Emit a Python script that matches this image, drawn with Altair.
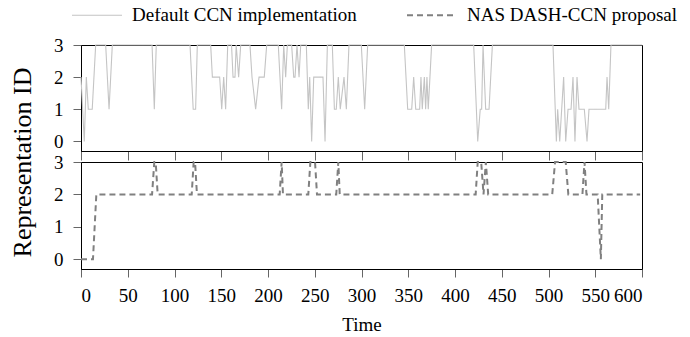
import altair as alt
import pandas as pd

# Default CCN implementation (top panel): time, representation id
default_t = [0, 3.5, 5.7, 7.8, 12, 15.7, 26.4, 30, 33.5, 76, 78.4, 80.5, 116.6, 120, 122.6, 124.4,
             138.7, 140.5, 148.3, 150.5, 152.6, 154.7, 156.9, 161, 162.6, 164.7, 166, 168.6, 170.8,
             180.7, 182.9, 186.8, 190.4, 196, 198.6, 211, 214.6, 216.8, 218.9, 220.7, 225.3, 227.5,
             228.9, 231, 233.2, 235, 241, 243.1, 244.6, 246.7, 248.9, 258.8, 261, 263.5, 268.8, 271,
             273, 275.2, 277.3, 281.3, 283.8, 286.6, 299.8, 303.4, 306.6, 345.8, 349.4, 353.7, 355.8,
             358, 362.2, 363.6, 365, 367.2, 368.6, 370, 371.4, 375, 420, 424.3, 427, 428.5, 430, 432.8,
             436.4, 440, 504.8, 508.4, 509.8, 512, 516.2, 518.4, 520.9, 524.1, 526.2, 528.3, 530.5,
             532.6, 538.3, 541.2, 543.3, 561.2, 562.6, 564.4, 566.8, 600]
default_v = [2, 0, 2, 1, 1, 3, 3, 1, 3, 3, 1, 3, 3, 1, 1, 3,
             3, 2, 2, 1, 2, 1, 3, 3, 2, 2, 3, 2, 3,
             3, 2, 1, 2, 2, 3, 3, 1, 3, 2, 3, 3, 2,
             2, 3, 2, 3, 3, 1, 2, 0, 2, 2, 0, 3, 3, 1,
             1, 2, 1, 2, 1, 3, 3, 1, 3, 3, 1, 1, 2,
             1, 1, 2, 1, 2, 1, 2, 1, 3, 3, 0, 1, 1, 3, 1,
             1, 3, 3, 0, 1, 0, 2, 0, 1, 1, 2, 0, 2,
             1, 1, 0, 1, 1, 2, 1, 3, 3]

# NAS DASH-CCN proposal (bottom panel)
nas_t = [0, 12.8, 16.4, 76, 78.4, 79.9, 82, 118.4, 120.5, 122, 124, 212.5, 214.6, 216, 243.1, 245.3,
         250.3, 252.4, 273, 275.2, 276.7, 422.1, 424.3, 428, 430.5, 433, 435.5, 504, 507, 518.4, 521.2,
         536.3, 538.5, 540.6, 552.6, 556, 557.5, 598]
nas_v = [0, 0, 2, 2, 3, 3, 2, 2, 3, 3, 2, 2, 3, 2, 2, 3,
         3, 2, 2, 3, 2, 2, 3, 3, 2, 3, 2, 2, 3, 3, 2,
         2, 3, 2, 2, 0, 2, 2]

series_names = ["Default CCN implementation", "NAS DASH-CCN proposal"]
x_ticks = list(range(0, 601, 50))
y_ticks = [0, 1, 2, 3]

df_top = pd.DataFrame({"t": default_t, "v": default_v, "series": series_names[0]})
df_bot = pd.DataFrame({"t": nas_t, "v": nas_v, "series": series_names[1]})

FONT = "Liberation Serif"
W = 561
TICK_COLOR = "#666666"

def make_legend():
    return alt.Legend(title=None, orient="none", legendX=-10, legendY=-55.7,
                      direction="horizontal", symbolType="stroke", symbolSize=2500,
                      labelFontSize=19, labelFont=FONT, columnPadding=46, labelLimit=400,
                      symbolStrokeWidth=1.6, labelOffset=9, labelColor="black")

color = alt.Color("series:N", scale=alt.Scale(domain=series_names, range=["#c4c4c4", "#808080"]),
                  legend=make_legend())
dash = alt.StrokeDash("series:N", scale=alt.Scale(domain=series_names, range=[[1, 0], [6, 4]]),
                      legend=make_legend())
sw = alt.StrokeWidth("series:N", scale=alt.Scale(domain=series_names, range=[1.1, 2.0]), legend=None)

yscale = alt.Scale(domain=[-0.3, 3], nice=False, zero=False)
xscale = alt.Scale(domain=[0, 600], nice=False)

top = alt.Chart(df_top).mark_line().encode(
    x=alt.X("t:Q", scale=xscale, axis=alt.Axis(values=x_ticks, labels=False, title=None, tickSize=9)),
    y=alt.Y("v:Q", scale=yscale, axis=alt.Axis(values=y_ticks, title="Representation ID",
                                               labelFont=FONT, labelFontSize=19,
                                               titleX=-51, titleY=117, titleBaseline="alphabetic",
                                               titleFontSize=26, titleFont=FONT, titleFontWeight="normal")),
    color=color, strokeDash=dash, strokeWidth=sw,
).properties(width=W, height=106)

bot = alt.Chart(df_bot).mark_line().encode(
    x=alt.X("t:Q", scale=xscale, axis=alt.Axis(values=x_ticks, title="Time", titleFontSize=19,
                                               labelFont=FONT, labelFontSize=19,
                                               titleFont=FONT, titleFontWeight="normal",
                                               labelPadding=9, titlePadding=10)),
    y=alt.Y("v:Q", scale=yscale, axis=alt.Axis(values=y_ticks, title=None,
                                               labelFont=FONT, labelFontSize=19)),
    color=color, strokeDash=dash, strokeWidth=sw,
).properties(width=W, height=107)

chart = alt.vconcat(top, bot, spacing=11, bounds="flush").resolve_scale(x="shared").properties(
    padding={"left": 0, "top": -19, "right": 2, "bottom": 0}
).configure(
    font=FONT
).configure_view(
    stroke="black", strokeWidth=1
).configure_axis(
    labelFont=FONT, labelFontSize=19, labelColor="black", tickColor=TICK_COLOR, domainColor="black",
    grid=False, tickSize=8, labelPadding=10, domain=True, titleColor="black"
).configure_legend(
    labelFont=FONT, labelFontSize=19, labelColor="black", labelLimit=400
)

chart.save("out.html", embed_options={"renderer": "svg", "actions": False})
